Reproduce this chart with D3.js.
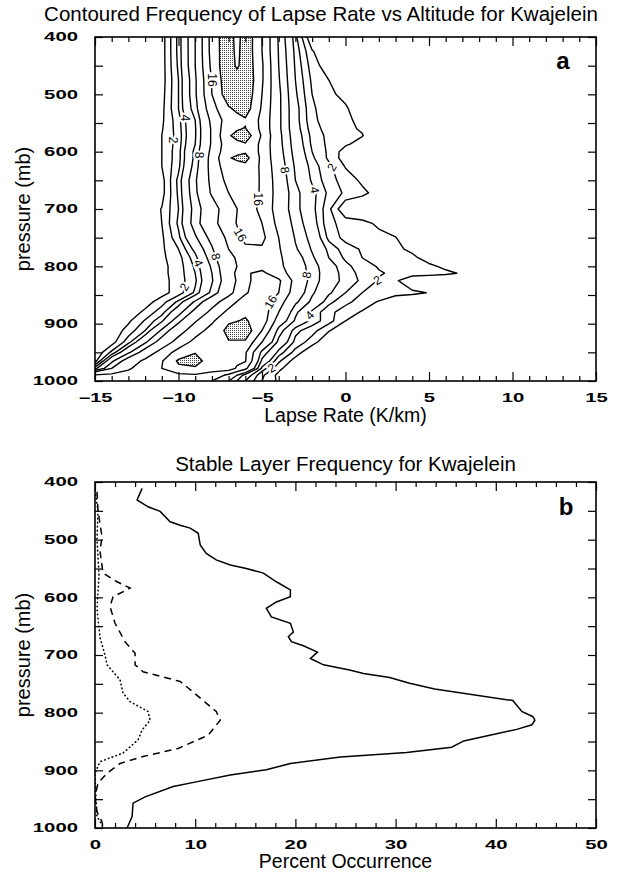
<!DOCTYPE html>
<html>
<head>
<meta charset="utf-8">
<script src="https://cdn.jsdelivr.net/npm/d3@7/dist/d3.min.js"></script>
<style>
  body { margin: 0; background: #fff; }
  svg { display: block; font-family: "Liberation Sans", Arial, sans-serif; }
</style>
</head>
<body>
<div id="chart"></div>
<script>
(function () {
	// ---------- Panel a: frequency (%) of lapse rate vs pressure ----------
	const lapseRates = [-15, -14, -13, -12, -11, -10, -9, -8, -7, -6.5, -6, -5, -4, -3, -2, -1, 0, 1, 2, 3, 4, 5, 6, 7, 8];
	const pressureRows = [400, 425, 450, 475, 500, 525, 545, 560, 572, 587, 600, 611, 625, 650, 672, 700, 725, 750,
		770, 785, 800, 812, 825, 846, 862, 880, 895, 912, 932, 950, 965, 978, 990, 1000];
	// one row per pressure level, one value per lapse rate
	const freqGrid = [
		[0, 0, 0, 0, 0.5, 3.3, 8, 17.6, 23, 18, 23, 16, 7.6, 3.3, 0, 0, 0, 0, 0, 0, 0, 0, 0, 0, 0],
		[0, 0, 0, 0, 0.5, 3.3, 8, 17.5, 23, 18.5, 23, 16, 7.8, 3.6, 1.1, 0, 0, 0, 0, 0, 0, 0, 0, 0, 0],
		[0, 0, 0, 0, 0.5, 3.2, 8, 17, 23.5, 19, 23, 16.5, 8, 3.8, 1.5, 0.4, 0, 0, 0, 0, 0, 0, 0, 0, 0],
		[0, 0, 0, 0, 0.5, 3, 7.5, 16.3, 23, 23.25, 23.5, 16.5, 8.2, 4, 1.8, 1, 0.2, 0, 0, 0, 0, 0, 0, 0, 0],
		[0, 0, 0, 0, 0.6, 3, 7.5, 16, 22.5, 22.75, 23, 16, 8.5, 4.2, 2, 1.15, 0.8, 0, 0, 0, 0, 0, 0, 0, 0],
		[0, 0, 0, 0, 0.7, 3, 7, 14.5, 19.5, 20.75, 22, 15.5, 8.5, 4.5, 2.2, 1.3, 1.1, 0.5, 0, 0, 0, 0, 0, 0, 0],
		[0, 0, 0, 0, 0.8, 2.6, 6, 13, 18, 18.75, 19.5, 15, 8.5, 4.5, 2.3, 1.4, 1.15, 0.8, 0, 0, 0, 0, 0, 0, 0],
		[0, 0, 0, 0, 0.9, 2.5, 5.8, 12.5, 19, 19.6, 20.2, 15, 8.5, 4.6, 2.5, 1.55, 1.2, 0.9, 0, 0, 0, 0, 0, 0, 0],
		[0, 0, 0.2, 0.4, 1, 2.4, 5.8, 12.5, 19.6, 21.05, 22.5, 15.5, 8.7, 4.8, 2.7, 1.7, 1.35, 1.05, 0.2, 0, 0, 0, 0, 0, 0],
		[0, 0, 0.2, 0.4, 1, 2.5, 6, 12.5, 18.5, 19.05, 19.6, 15, 8.8, 5, 2.8, 1.75, 1.15, 0.6, 0, 0, 0, 0, 0, 0, 0],
		[0, 0, 0.2, 0.4, 1, 2.6, 6.5, 13, 18.8, 19.15, 19.5, 15, 9, 5.2, 3, 1.8, 0.5, 0, 0, 0, 0, 0, 0, 0, 0],
		[0, 0, 0.2, 0.4, 1, 2.6, 6.5, 13.5, 19.7, 20.6, 21.5, 15, 9.2, 5.4, 3.2, 1.8, 0.45, 0, 0, 0, 0, 0, 0, 0, 0],
		[0, 0, 0.2, 0.4, 1, 2.7, 6.8, 13.5, 18.5, 18.75, 19, 15.3, 9.5, 5.7, 3.5, 2.25, 0.9, 0.2, 0, 0, 0, 0, 0, 0, 0],
		[0, 0, 0, 0.2, 0.6, 3.3, 7.6, 13, 17.2, 17.85, 18.5, 15.5, 10, 6, 3.8, 2.4, 1.55, 0.8, 0, 0, 0, 0, 0, 0, 0],
		[0, 0, 0, 0.2, 0.6, 3.2, 7.4, 12.5, 16, 17.15, 18.3, 15.5, 10.2, 6.6, 4.4, 2.75, 1.8, 1.25, 0.6, 0, 0, 0, 0, 0, 0],
		[0, 0, 0, 0.3, 1.05, 3, 6.8, 10.2, 14.4, 15.95, 17.5, 15.3, 10, 6.6, 4.4, 2.25, 0, 0, 0, 0, 0, 0, 0, 0, 0],
		[0, 0, 0, 0.3, 1, 3.2, 7, 10.5, 14.8, 16.15, 17.5, 16, 10.8, 7.1, 4.7, 2.25, 1.65, 1.3, 0.8, 0, 0, 0, 0, 0, 0],
		[0, 0, 0, 0.3, 0.8, 2.75, 5.7, 8.8, 12.9, 15.1, 17.3, 17, 12, 7.75, 5.25, 2.7, 1.65, 1.5, 1.3, 1.05, 0, 0, 0, 0, 0],
		[0, 0, 0, 0.3, 0.8, 2, 4.4, 7.7, 12, 13.5, 15, 15.5, 12.4, 8.3, 5.8, 3.67, 2.5, 1.87, 1.5, 1.2, 0.8, 0, 0, 0, 0],
		[0, 0, 0, 0.3, 0.8, 1.6, 3.6, 7, 11.1, 12.3, 13.5, 14.5, 12.7, 9.3, 6.3, 4, 2.8, 2, 1.7, 1.4, 1.2, 0.6, 0, 0, 0],
		[0, 0, 0, 0.3, 0.7, 1.5, 3.2, 6.3, 10.2, 12, 13.8, 14.8, 12.9, 9.8, 6.9, 4.6, 3.3, 2.45, 1.9, 1.65, 1.4, 1.2, 0.8, 0, 0],
		[0, 0, 0, 0.3, 0.7, 1.5, 3, 6, 10, 12.8, 15.6, 16.8, 13.8, 10, 7, 4.8, 3.45, 2.7, 2.1, 1.8, 1.6, 1.4, 1.2, 0.9, 0],
		[0, 0, 0, 0.3, 0.6, 1.5, 2.8, 5.8, 9.7, 12.35, 15, 18, 16.7, 10.7, 7, 4.7, 3.6, 2.8, 1.9, 1.2, 0, 0, 0, 0, 0],
		[0, 0, 0, 0.3, 0.6, 1.5, 3.2, 6.5, 10.7, 13.1, 15.5, 18.5, 16, 10, 6.3, 4.2, 3, 2, 1.75, 1.5, 1.25, 0.95, 0, 0, 0],
		[0, 0, 0, 0.5, 1.55, 3.25, 6.3, 10.2, 14.2, 16.1, 18, 18.5, 13.7, 8.5, 5.5, 3.3, 2.27, 1.56, 0.9, 0, 0, 0, 0, 0, 0],
		[0, 0, 0.3, 1.25, 2.6, 5.2, 8.9, 13.1, 17, 18.25, 19.5, 18.5, 12, 6.4, 3.7, 2.3, 1.5, 0.9, 0, 0, 0, 0, 0, 0, 0],
		[0, 0.2, 0.8, 2.1, 3.75, 7.3, 11.6, 15.3, 19.5, 19.9, 20.3, 18.5, 10, 5.7, 3.6, 2.4, 1, 0, 0, 0, 0, 0, 0, 0, 0],
		[0, 0.3, 1.4, 3, 6.3, 10.2, 14.2, 17.5, 21, 21.75, 22.5, 16, 7, 3.3, 2.4, 1.1, 0, 0, 0, 0, 0, 0, 0, 0, 0],
		[0, 0.5, 2.6, 5.6, 9.3, 13.6, 17.2, 19, 19.8, 19.65, 19.5, 12, 5.4, 2.7, 1.5, 0, 0, 0, 0, 0, 0, 0, 0, 0, 0],
		[0, 2.25, 5.6, 9.3, 13.6, 17.5, 19.8, 19, 18.5, 17.5, 16.5, 7.2, 3.6, 1.6, 0, 0, 0, 0, 0, 0, 0, 0, 0, 0, 0],
		[0.5, 5.5, 9.45, 12.9, 15.7, 20.6, 21.5, 18, 17.5, 16.9, 16.3, 5.5, 2.2, 0.5, 0, 0, 0, 0, 0, 0, 0, 0, 0, 0, 0],
		[3.5, 8, 11.5, 14, 16, 19.2, 19.5, 17.5, 18, 15.5, 13, 3.6, 1.3, 0, 0, 0, 0, 0, 0, 0, 0, 0, 0, 0, 0],
		[12.5, 13, 13.5, 13.5, 14, 15, 15.5, 14.5, 11, 8, 5, 2.2, 0.7, 0, 0, 0, 0, 0, 0, 0, 0, 0, 0, 0, 0],
		[12, 12.5, 12.5, 12.5, 13, 13.5, 13.5, 12, 8, 6, 4, 2, 0.8, 0, 0, 0, 0, 0, 0, 0, 0, 0, 0, 0, 0],
	];
	const contourLevels = [1, 2, 3, 4, 6, 8, 12, 16];
	const shadeLevel = 20;
	const contourLabels = [
		{ text: "16", L: -8.0, p: 475, angle: 90 },
		{ text: "4", L: -9.6, p: 541, angle: 90 },
		{ text: "2", L: -10.3, p: 580, angle: 90 },
		{ text: "8", L: -8.77, p: 606, angle: 90 },
		{ text: "8", L: -3.62, p: 632, angle: 80 },
		{ text: "2", L: -0.82, p: 627, angle: -60 },
		{ text: "4", L: -1.85, p: 667, angle: 80 },
		{ text: "16", L: -5.22, p: 683, angle: 90 },
		{ text: "16", L: -6.3, p: 745, angle: 60 },
		{ text: "8", L: -7.76, p: 783, angle: 75 },
		{ text: "4", L: -8.8, p: 794, angle: 65 },
		{ text: "2", L: -9.65, p: 836, angle: -60 },
		{ text: "8", L: -2.33, p: 815, angle: -80 },
		{ text: "16", L: -4.48, p: 862, angle: -60 },
		{ text: "4", L: -2.15, p: 885, angle: -45 },
		{ text: "2", L: 1.9, p: 824, angle: -30 },
		{ text: "2", L: -4.43, p: 977, angle: -30 },
	];

	// ---------- Panel b: stable layer frequency, [percent, pressure] ----------
	const solidLine = [
		[4.7, 411], [4.2, 431], [5.3, 443], [6.5, 451], [7.5, 469], [8.5, 475], [9.5, 480], [10.3, 489],
		[10.5, 509], [11.1, 524], [12.1, 535], [13.5, 544], [15.1, 550], [16.8, 558], [18.1, 573], [19.5, 587],
		[19.5, 599], [18.1, 608], [17.1, 619], [17.6, 634], [19.5, 645], [19.8, 660], [19.3, 668], [19.6, 677],
		[20.8, 684], [22.2, 695], [21.5, 706], [22.8, 717], [25.4, 726], [26.8, 732], [29.4, 739], [31.4, 749],
		[33.9, 759], [41.7, 779], [42.6, 798], [43.7, 807], [43.9, 813], [43.6, 821], [42.1, 829], [39.4, 839],
		[36.8, 849], [35.6, 860], [31.1, 869], [24.5, 877], [19.5, 888], [17.1, 899], [13.5, 908], [10.1, 920],
		[7.8, 928], [5.0, 946], [3.8, 957], [3.7, 980], [3.2, 1000],
	];
	const dashedLine = [
		[0.2, 417], [0.3, 450], [0.7, 495], [0.5, 520], [0.8, 558], [2.2, 573], [3.5, 584], [1.8, 599],
		[1.5, 616], [2.0, 645], [3.0, 677], [4.0, 697], [4.0, 717], [4.8, 729], [8.5, 746], [9.5, 760],
		[12.1, 798], [12.5, 813], [11.3, 839], [8.3, 862], [4.8, 876], [2.5, 888], [1.2, 905], [0.3, 922],
		[0.0, 946], [0.2, 972], [0.7, 989], [0.8, 1000],
	];
	const dottedLine = [
		[0.0, 415], [0.3, 450], [0.2, 500], [0.4, 560], [0.2, 620], [0.5, 670], [1.0, 700], [1.2, 717],
		[2.5, 743], [2.8, 766], [3.5, 781], [5.3, 798], [5.5, 813], [4.7, 830], [4.3, 847], [2.8, 870],
		[0.5, 885], [0.0, 905], [0.1, 950], [0.2, 980], [0.7, 995], [0.8, 1000],
	];

	const pressureTicks = [400, 450, 500, 550, 600, 650, 700, 750, 800, 850, 900, 950, 1000];
	const lapseMajor = [-15, -10, -5, 0, 5, 10, 15];
	const percentMajor = [0, 10, 20, 30, 40, 50];

	// ---------- Layout ----------
	const width = 618, height = 872;
	const FONT = "'Liberation Sans', Arial, Helvetica, sans-serif";

	const svg = d3.select("#chart").append("svg")
		.attr("width", width).attr("height", height)
		.attr("viewBox", `0 0 ${width} ${height}`);

	const xa = d3.scaleLinear().domain([-15, 15]).range([95, 596]);
	const ya = d3.scaleLinear().domain([400, 1000]).range([37, 381]);
	const xb = d3.scaleLinear().domain([0, 50]).range([95, 596]);
	const yb = d3.scaleLinear().domain([400, 1000]).range([482, 828]);

	const defs = svg.append("defs");
	defs.append("pattern")
		.attr("id", "stipple").attr("patternUnits", "userSpaceOnUse")
		.attr("width", 2).attr("height", 2)
		.append("rect").attr("width", 1).attr("height", 1).attr("fill", "#444");
	defs.append("clipPath").attr("id", "clipA")
		.append("rect").attr("x", 95).attr("y", 37).attr("width", 501).attr("height", 344);
	defs.append("clipPath").attr("id", "clipB")
		.append("rect").attr("x", 95).attr("y", 482).attr("width", 501).attr("height", 346);

	// ---------- Contours ----------
	const nx = lapseRates.length, ny = pressureRows.length;
	const gx = d3.scaleLinear().domain(lapseRates.map((_, i) => i + 0.5)).range(lapseRates);
	const gy = d3.scaleLinear().domain(pressureRows.map((_, i) => i + 0.5)).range(pressureRows);
	const path = d3.geoPath(d3.geoTransform({
		point: function (px, py) { this.stream.point(xa(gx(px)), ya(gy(py))); }
	}));
	const contours = d3.contours().size([nx, ny]).thresholds(contourLevels.concat([shadeLevel]))(freqGrid.flat());

	const gA = svg.append("g").attr("clip-path", "url(#clipA)");
	gA.selectAll("path.shade")
		.data(contours.filter(c => c.value === shadeLevel))
		.join("path").attr("class", "shade")
		.attr("d", path)
		.attr("fill", "url(#stipple)")
		.attr("stroke", "#000").attr("stroke-width", 1.4);
	gA.selectAll("path.iso")
		.data(contours.filter(c => c.value !== shadeLevel))
		.join("path").attr("class", "iso")
		.attr("d", path)
		.attr("fill", "none")
		.attr("stroke", "#000").attr("stroke-width", 1.4).attr("stroke-linejoin", "round");

	gA.selectAll("text.clabel")
		.data(contourLabels)
		.join("text").attr("class", "clabel")
		.attr("transform", d => `translate(${xa(d.L)},${ya(d.p)}) rotate(${d.angle})`)
		.attr("text-anchor", "middle").attr("dy", "0.35em")
		.style("font-family", FONT).style("font-size", "12px")
		.attr("fill", "#000").attr("stroke", "#fff").attr("stroke-width", 4)
		.style("paint-order", "stroke")
		.text(d => d.text);

	// ---------- Panel b lines ----------
	const line = d3.line().x(d => xb(d[0])).y(d => yb(d[1]));
	const gB = svg.append("g").attr("clip-path", "url(#clipB)");
	gB.append("path").datum(solidLine).attr("d", line)
		.attr("fill", "none").attr("stroke", "#000").attr("stroke-width", 1.5);
	gB.append("path").datum(dashedLine).attr("d", line)
		.attr("fill", "none").attr("stroke", "#000").attr("stroke-width", 1.5)
		.attr("stroke-dasharray", "7,5");
	gB.append("path").datum(dottedLine).attr("d", line)
		.attr("fill", "none").attr("stroke", "#000").attr("stroke-width", 1.6)
		.attr("stroke-linecap", "round").attr("stroke-dasharray", "0.5,3.5");

	// ---------- Frames and ticks ----------
	const clean = sel => sel.select(".domain").remove();
	const styleLabels = sel => sel.selectAll("text")
		.filter(function () { return this.textContent.length > 0; })
		.attr("font-family", FONT).attr("font-size", 12).attr("font-weight", "bold").attr("fill", "#000")
		.attr("lengthAdjust", "spacingAndGlyphs")
		.attr("textLength", function () { return this.textContent.length * 11.3; });
	const thin = sel => sel.selectAll("line").attr("stroke-width", 1.2);

	function frame(x, y, xMinor, xMajor, xFmt) {
		const [x0, x1] = x.range(), [y0, y1] = y.range();
		const g = svg.append("g");
		g.append("g").attr("transform", `translate(0,${y1})`)
			.call(d3.axisBottom(x).tickValues(xMinor).tickSize(-5).tickFormat("")).call(clean).call(thin);
		g.append("g").attr("transform", `translate(0,${y0})`)
			.call(d3.axisTop(x).tickValues(xMinor).tickSize(-5).tickFormat("")).call(clean).call(thin);
		g.append("g").attr("transform", `translate(0,${y1})`)
			.call(d3.axisBottom(x).tickValues(xMajor).tickSize(-9).tickPadding(12).tickFormat(xFmt))
			.call(clean).call(thin).call(styleLabels);
		g.append("g").attr("transform", `translate(0,${y0})`)
			.call(d3.axisTop(x).tickValues(xMajor).tickSize(-9).tickFormat("")).call(clean).call(thin);
		g.append("g").attr("transform", `translate(${x0},0)`)
			.call(d3.axisLeft(y).tickValues(pressureTicks).tickSize(-8).tickPadding(17)
				.tickFormat(d => (d % 100 === 0 ? d : "")))
			.call(clean).call(thin).call(styleLabels);
		g.append("g").attr("transform", `translate(${x1},0)`)
			.call(d3.axisRight(y).tickValues(pressureTicks).tickSize(-8).tickFormat("")).call(clean).call(thin);
		g.append("rect").attr("x", x0).attr("y", y0).attr("width", x1 - x0).attr("height", y1 - y0)
			.attr("fill", "none").attr("stroke", "#000").attr("stroke-width", 1.6);
	}

	frame(xa, ya, d3.range(-15, 16).filter(d => d % 5 !== 0), lapseMajor, d => (d < 0 ? "\u2212" + Math.abs(d) : d));
	frame(xb, yb, d3.range(0, 51, 2).filter(d => d % 10 !== 0), percentMajor, d => d);

	// ---------- Titles and axis labels ----------
	const label = (x, y, txt, size, extra) => {
		const t = svg.append("text").attr("x", x).attr("y", y)
			.attr("text-anchor", "middle")
			.style("font-family", FONT).style("font-size", size + "px").attr("fill", "#000")
			.text(txt);
		if (extra) extra(t);
		return t;
	};
	label(321, 21, "Contoured Frequency of Lapse Rate vs Altitude for Kwajelein", 20.5);
	label(345.5, 470.5, "Stable Layer Frequency for Kwajelein", 20.5);
	label(345.5, 422, "Lapse Rate (K/km)", 19.5);
	label(345.5, 868, "Percent Occurrence", 19.5);
	label(0, 0, "pressure (mb)", 20, t => t.attr("transform", "translate(30,209) rotate(-90)"));
	label(0, 0, "pressure (mb)", 20, t => t.attr("transform", "translate(30,655) rotate(-90)"));
	label(563, 69, "a", 24, t => t.style("font-weight", "bold"));
	label(566, 515, "b", 24, t => t.style("font-weight", "bold"));
})();
</script>
</body>
</html>
